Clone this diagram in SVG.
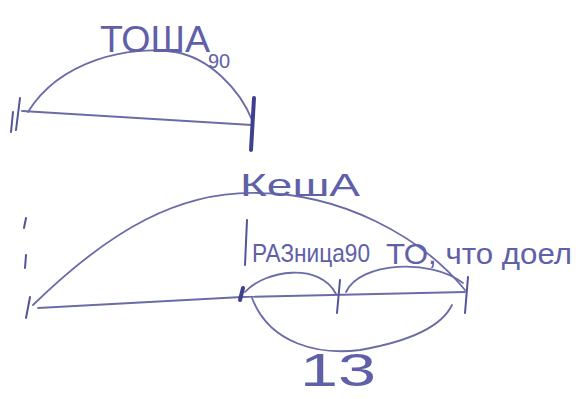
<svg xmlns="http://www.w3.org/2000/svg" width="580" height="399" viewBox="0 0 580 399">
<style>
.ln{fill:none;stroke:#6b6ba8;stroke-width:1.8;stroke-linecap:round}
.tk{fill:none;stroke:#54549a;stroke-width:2;stroke-linecap:round}
.th{fill:none;stroke:#3f3f8f;stroke-width:4;stroke-linecap:round}
.t{font-family:"Liberation Sans",sans-serif;fill:#6060a8}
</style>
<rect width="580" height="399" fill="#fff"/>
<g id="connectors">
<path class="ln" d="M28,112 C60,60 130,45 175,52 C210,58 240,90 252,120"/>
<path class="ln" d="M22,111 L252,125"/>
<path class="ln" d="M33,305 C110,230 180,190 260,193 C340,194 420,235 465,290"/>
<path class="ln" d="M38,308 L242,297 L465,292"/>
<path class="ln" d="M245,292 C265,270 320,262 336,294"/>
<path class="ln" d="M346,292 C360,262 430,258 463,283"/>
<path class="ln" d="M252,298 C270,345 320,355 360,350 C400,343 440,330 452,305"/>
</g>
<g id="ticks">
<path class="tk" d="M20,98 L16,130"/>
<path class="tk" d="M13,112 L11,132"/>
<path class="th" d="M254,98 L251,150"/>
<path class="tk" d="M26,218 L24,228"/>
<path class="tk" d="M26,255 L25,268"/>
<path class="tk" d="M30,297 L26,318"/>
<path class="th" d="M243,288 L240,300"/>
<path class="tk" d="M247,220 L245,265"/>
<path class="tk" d="M340,280 L337,313"/>
<path class="tk" d="M468,277 L465,313"/>
</g>
<g id="node-tosha">
<text class="t" x="100" y="52" font-size="36" textLength="110" lengthAdjust="spacingAndGlyphs">ТОША</text>
<text class="t" x="208" y="68" font-size="20">90</text>
</g>
<g id="node-kesha">
<text class="t" x="240" y="196" font-size="32" textLength="120" lengthAdjust="spacingAndGlyphs">КешА</text>
</g>
<g id="node-raznica">
<text class="t" x="252" y="262" font-size="26" textLength="118" lengthAdjust="spacingAndGlyphs">РАЗница90</text>
<text class="t" x="386" y="264" font-size="30" textLength="186" lengthAdjust="spacingAndGlyphs">ТО, что доел</text>
</g>
<g id="node-13">
<text class="t" x="300" y="386" font-size="46" textLength="76" lengthAdjust="spacingAndGlyphs">13</text>
</g>
</svg>
